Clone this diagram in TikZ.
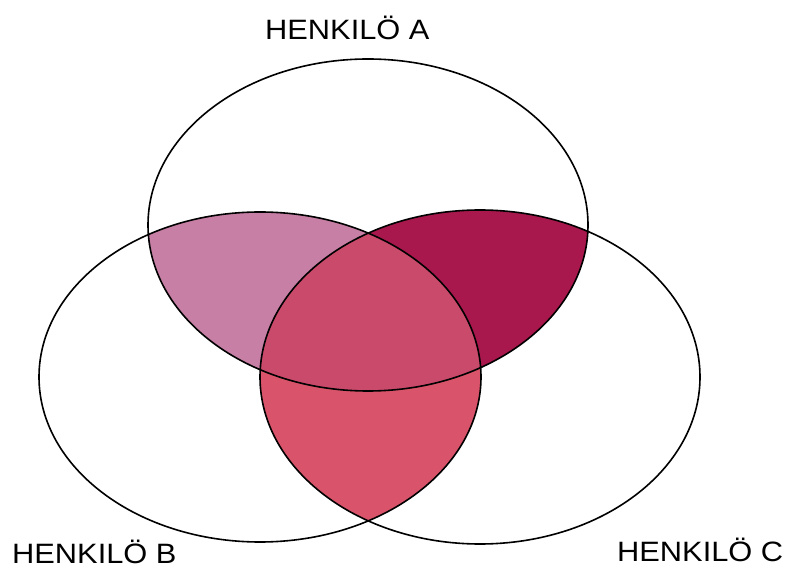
\documentclass[tikz,border=0pt]{standalone}
\usepackage{fontspec}
\newfontfamily\labfont[FakeStretch=1.1]{Liberation Sans}
\definecolor{colAB}{HTML}{C77FA5}
\definecolor{colAC}{HTML}{A8184C}
\definecolor{colBC}{HTML}{D9546A}
\definecolor{colABC}{HTML}{C94A6B}
\tikzset{
  outline/.style={draw=black, line width=1.6pt},
  lab/.style={font=\labfont\fontsize{28}{28}\selectfont, anchor=base west, inner sep=0pt}
}
\begin{document}
\begin{tikzpicture}[x=1pt,y=-1pt]
\useasboundingbox (0,0) rectangle (793,569);
\fill[white] (0,0) rectangle (793,569);
\def\ellA{(368,225) ellipse [x radius=220, y radius=166]}
\def\ellB{(260,377) ellipse [x radius=221, y radius=165]}
\def\ellC{(480,377) ellipse [x radius=220, y radius=167]}
% pairwise intersections
\begin{scope}
  \clip \ellA;
  \fill[colAB] \ellB;
\end{scope}
\begin{scope}
  \clip \ellA;
  \fill[colAC] \ellC;
\end{scope}
\begin{scope}
  \clip \ellB;
  \fill[colBC] \ellC;
\end{scope}
\begin{scope}
  \clip \ellA;
  \clip \ellB;
  \fill[colABC] \ellC;
\end{scope}
% outlines
\draw[outline] \ellA;
\draw[outline] \ellB;
\draw[outline] \ellC;
% labels
\node[lab] (la) at (265,40) {HENKILÖ A};
\node[lab] (lb) at (12,563) {HENKILÖ B};
\node[lab] (lc) at (617,561) {HENKILÖ C};
\end{tikzpicture}
\end{document}
